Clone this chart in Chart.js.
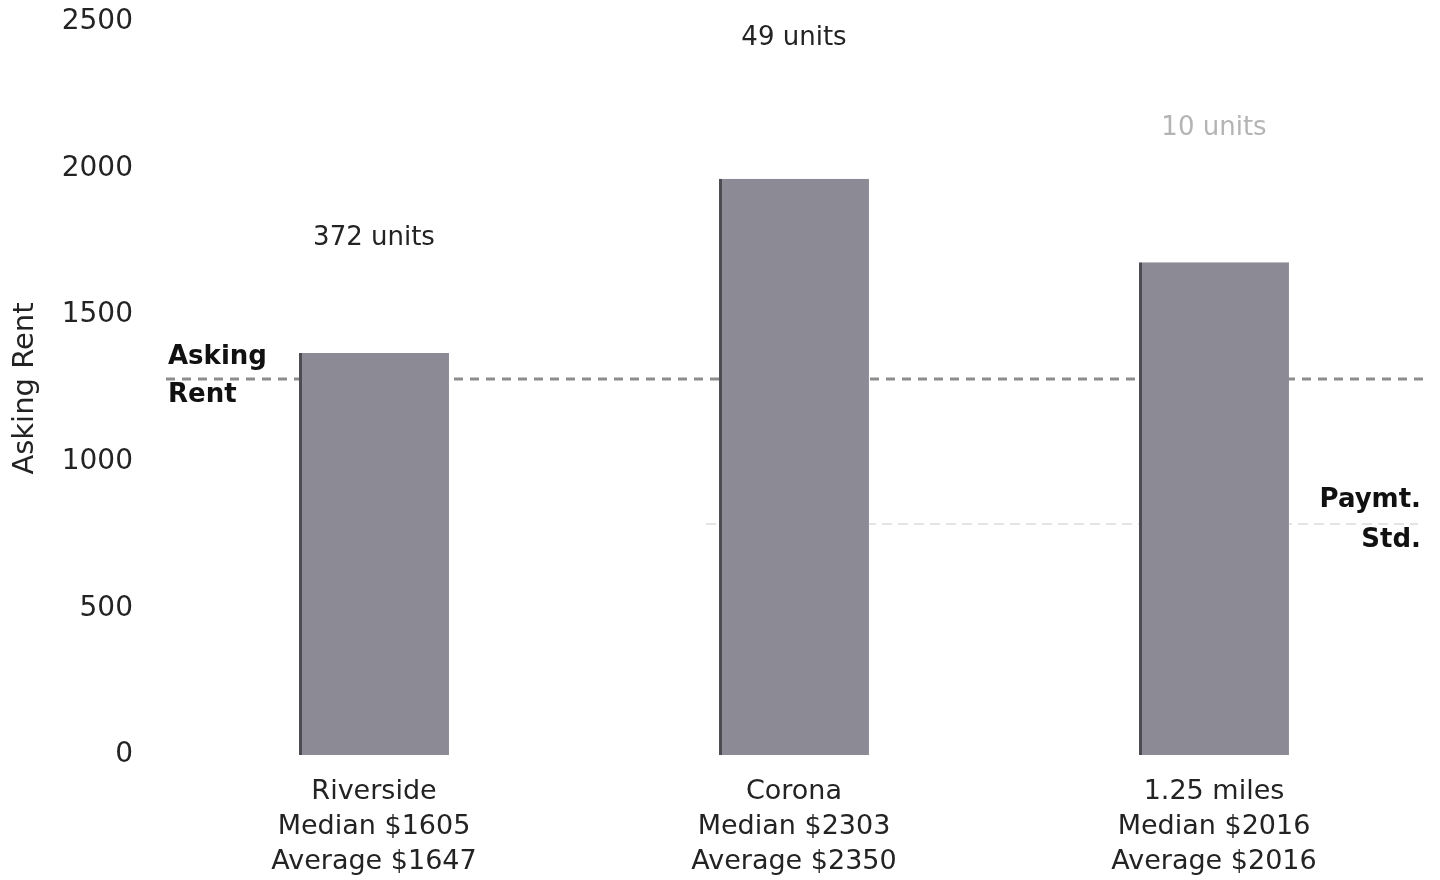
<!DOCTYPE html>
<html>
<head>
<meta charset="utf-8">
<script src="https://cdn.jsdelivr.net/npm/chart.js@4/dist/chart.umd.min.js"></script>
<style>
  html, body { margin: 0; padding: 0; background: #ffffff; }
  #wrap { width: 1440px; height: 880px; }
</style>
</head>
<body>
<div id="wrap"><canvas id="chart" width="1440" height="880"></canvas></div>
<script>
// Market areas and their asking-rent bars
const areaNames = ['Riverside', 'Corona', '1.25 miles'];
const medianRents = [1605, 2303, 2016];
const averageRents = [1647, 2350, 2016];
const barRents = [1371, 1965, 1681];
const unitCounts = [372, 49, 10];

// Reference levels
const askingRentLevel = 1282;
const paymentStandardLevel = 788;

// Y-axis ticks
const yTicks = [0, 500, 1000, 1500, 2000, 2500];

const FONT = '"DejaVu Sans", Verdana, sans-serif';
const TEXT = '#232323';

const categoryLabels = areaNames.map((n, i) => [
  n,
  'Median $' + medianRents[i],
  'Average $' + averageRents[i]
]);

// Reference lines behind the bars, text annotations on top
const annotations = {
  id: 'annotations',
  beforeDatasetsDraw(chart) {
    const { ctx, chartArea, scales } = chart;
    const y = scales.y;
    ctx.save();
    // asking rent line
    const ya = y.getPixelForValue(askingRentLevel);
    ctx.strokeStyle = '#8d8d8d';
    ctx.lineWidth = 3;
    ctx.setLineDash([9, 7]);
    ctx.beginPath();
    ctx.moveTo(chartArea.left + 2, ya);
    ctx.lineTo(chartArea.right, ya);
    ctx.stroke();
    // payment standard line
    const yp = y.getPixelForValue(paymentStandardLevel);
    const xs = scales.x;
    ctx.strokeStyle = '#e4e4e4';
    ctx.lineWidth = 2;
    ctx.setLineDash([10, 6]);
    ctx.beginPath();
    ctx.moveTo(xs.getPixelForValue(1) - 88, yp);
    ctx.lineTo(chartArea.right - 6, yp);
    ctx.stroke();
    ctx.restore();
  },
  afterDatasetsDraw(chart, args, opts) {
    const { ctx, scales } = chart;
    const meta = chart.getDatasetMeta(0);
    ctx.save();
    ctx.textAlign = 'center';
    ctx.textBaseline = 'middle';
    ctx.font = '26px ' + FONT;
    meta.data.forEach((bar, i) => {
      ctx.fillStyle = opts.unitColors[i];
      ctx.fillText(unitCounts[i] + ' units', bar.x, bar.y - opts.labelLift[i]);
    });
    // level labels
    ctx.fillStyle = '#111111';
    ctx.font = 'bold 26px ' + FONT;
    const ya = scales.y.getPixelForValue(askingRentLevel);
    ctx.textAlign = 'left';
    ctx.fillText('Asking', 168, ya - 22);
    ctx.fillText('Rent', 168, ya + 16);
    const yp = scales.y.getPixelForValue(paymentStandardLevel);
    ctx.textAlign = 'right';
    ctx.fillText('Paymt.', 1421, yp - 24);
    ctx.fillText('Std.', 1421, yp + 16);
    ctx.restore();
  }
};

new Chart(document.getElementById('chart'), {
  type: 'bar',
  data: {
    labels: categoryLabels,
    datasets: [{
      data: barRents,
      backgroundColor: '#8b8a95',
      borderColor: '#4c4b52',
      borderWidth: { left: 3, right: 0, top: 0, bottom: 0 },
      borderSkipped: false,
      categoryPercentage: 1,
      barPercentage: 0.357
    }]
  },
  options: {
    responsive: false,
    animation: false,
    layout: { padding: { top: 22, right: 16, left: 0, bottom: 0 } },
    plugins: {
      legend: { display: false },
      tooltip: { enabled: false },
      annotations: {
        labelLift: [115, 141, 134],
        unitColors: [TEXT, TEXT, '#b4b4b4']
      }
    },
    scales: {
      x: {
        grid: { display: false },
        border: { display: false },
        ticks: {
          color: TEXT,
          font: { family: FONT, size: 27, lineHeight: 1.3 },
          padding: 11,
          maxRotation: 0,
          autoSkip: false
        },
        afterFit(scale) {
          scale.height = 125;
          scale.paddingLeft = 0;
          scale.paddingRight = 0;
        }
      },
      y: {
        min: 0,
        max: 2500,
        grid: { display: false },
        border: { display: false },
        afterBuildTicks(scale) { scale.ticks = yTicks.map(v => ({ value: v })); },
        ticks: {
          color: TEXT,
          font: { family: FONT, size: 28 },
          padding: 23,
          callback: v => String(v)
        },
        title: {
          display: true,
          text: 'Asking Rent',
          color: TEXT,
          font: { family: FONT, size: 29 },
          padding: { top: 8, bottom: 0 }
        },
        afterFit(scale) {
          scale.width = 164;
          scale.paddingTop = 0;
          scale.paddingBottom = 0;
        }
      }
    }
  },
  plugins: [annotations]
});
</script>
</body>
</html>
